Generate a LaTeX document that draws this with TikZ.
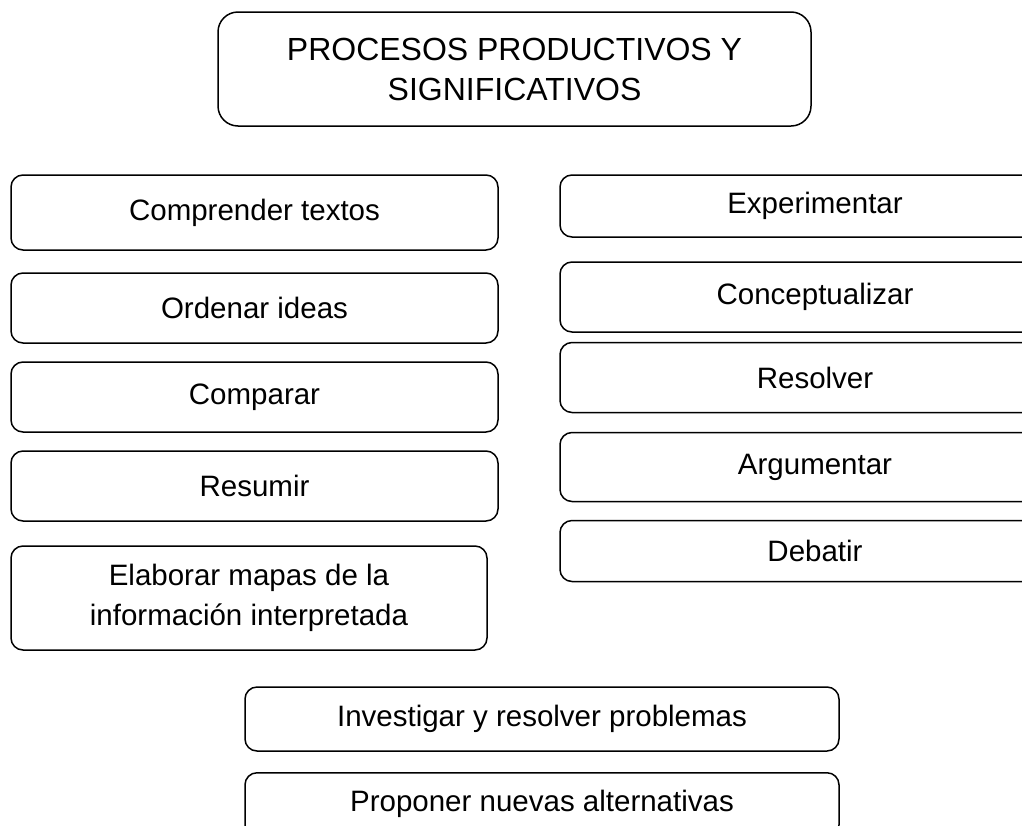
\documentclass[tikz,border=0pt]{standalone}
\usepackage{fontspec}
\setmainfont{Liberation Sans}
\begin{document}
\begin{tikzpicture}[x=1pt,y=-1pt,
  box/.style={draw=black,line width=1.5pt,rounded corners=12pt,inner sep=0pt,align=center,
    font=\fontsize{29.5}{40}\selectfont},
  titlebox/.style={box,rounded corners=20pt,font=\fontsize{32}{40}\selectfont}]
\useasboundingbox (0,0) rectangle (1022,825);
\clip (0,0) rectangle (1022,825);
\fill[white] (0,0) rectangle (1022,825);
\node[titlebox,minimum width=593pt,minimum height=114pt] (t) at (514.5,69) {PROCESOS PRODUCTIVOS Y\\SIGNIFICATIVOS};
% left column
\node[box,minimum width=487pt,minimum height=75pt] (l1) at (254.5,212.5) {Comprender textos};
\node[box,minimum width=487pt,minimum height=70pt] (l2) at (254.5,308) {Ordenar ideas};
\node[box,minimum width=487pt,minimum height=70pt] (l3) at (254.5,397) {Comparar};
\node[box,minimum width=487pt,minimum height=70pt] (l4) at (254.5,486) {Resumir};
\node[box,minimum width=476pt,minimum height=104pt] (l5) at (249,598) {Elaborar mapas de la\\información interpretada};
% right column
\node[box,minimum width=510pt,minimum height=62pt] (r1) at (815,206) {Experimentar};
\node[box,minimum width=510pt,minimum height=70pt] (r2) at (815,297) {Conceptualizar};
\node[box,minimum width=510pt,minimum height=70pt] (r3) at (815,377.5) {Resolver};
\node[box,minimum width=510pt,minimum height=69pt] (r4) at (815,467) {Argumentar};
\node[box,minimum width=510pt,minimum height=61pt] (r5) at (815,551) {Debatir};
% bottom
\node[box,minimum width=594pt,minimum height=64pt] (b1) at (542,719) {Investigar y resolver problemas};
\node[box,minimum width=594pt,minimum height=64pt,anchor=north] (b2) at (542,772) {};
\node[font=\fontsize{29.5}{40}\selectfont] (b2t) at (542,804) {Proponer nuevas alternativas};
\end{tikzpicture}
\end{document}
